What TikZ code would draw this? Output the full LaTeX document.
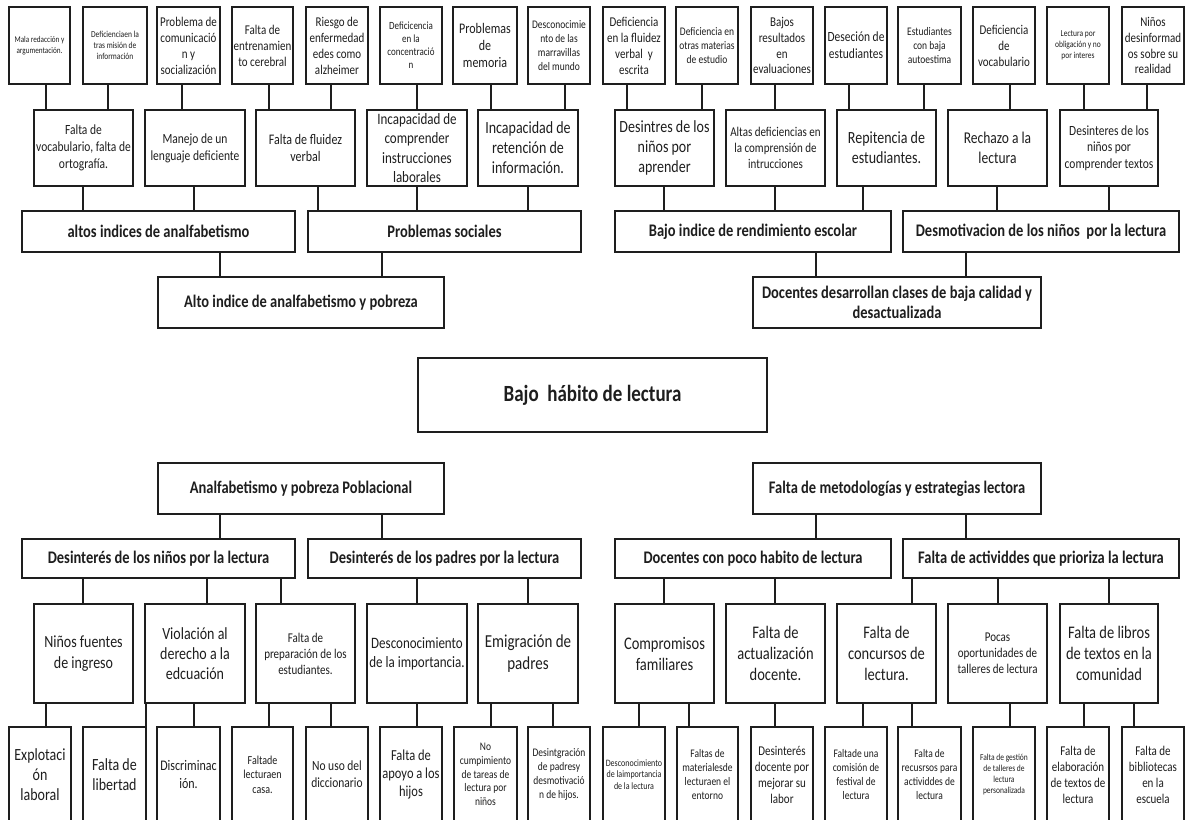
\documentclass[tikz,border=0pt]{standalone}
\usepackage{fontspec}
\setmainfont{Carlito}[FakeStretch=0.82]
\definecolor{ln}{HTML}{1E1E1E}
\tikzset{
  bxs/.style={draw=ln, line width=1.3pt, inner sep=0pt},
  con/.style={draw=ln, line width=1.3pt},
  txt/.style={align=center, inner sep=0pt, text=ln},
}
\newcommand\fs[1]{\fontsize{\fpeval{#1/0.82}}{\fpeval{1.45*#1}}\selectfont}
\newcommand\fsl[2]{\fontsize{\fpeval{#1/0.82}}{#2}\selectfont}
\newcommand\fsb[1]{\fontsize{\fpeval{#1/0.82}}{\fpeval{1.4*#1}}\selectfont\bfseries}
\newcommand\bx[7]{%
  \pgfmathsetmacro\bw{#4-#2}%
  \pgfmathsetmacro\bh{#5-#3}%
  \node[bxs, minimum width=\bw pt, minimum height=\bh pt] (#1) at ({(#2+#4)/2},{(#3+#5)/2}) {};
  \node[txt, font=#6] (#1-t) at (#1.center) {#7};}
\newcommand\cn[3]{\draw[con] (#1.south -| #3,0) -- (#2.north -| #3,0);}
\begin{document}
\begin{tikzpicture}[x=1pt,y=-1pt]
\path[use as bounding box, fill=white] (0,0) rectangle (1185,819);
\clip (0,0) rectangle (1185,819);
% top row
\bx{t1}{9}{7}{70}{84}{\fs{7.2}}{Mala redacción y\\argumentación.}
\bx{t2}{83}{7}{147}{84}{\fs{7.5}}{Deficienciaen la\\tras misión de\\información}
\bx{t3}{157}{7}{220}{84}{\fs{11}}{Problema de\\comunicació\\n y\\socialización}
\bx{t4}{232}{7}{293}{84}{\fs{11}}{Falta de\\entrenamien\\to cerebral}
\bx{t5}{306}{7}{368}{84}{\fs{11}}{Riesgo de\\enfermedad\\edes como\\alzheimer}
\bx{t6}{380}{7}{442}{84}{\fs{9}}{Deficicencia\\en la\\concentració\\n}
\bx{t7}{453}{7}{517}{84}{\fs{12}}{Problemas\\de\\memoria}
\bx{t8}{528}{7}{590}{84}{\fs{9.5}}{Desconocimie\\nto de las\\marravillas\\del mundo}
\bx{t9}{603}{7}{665}{84}{\fs{11}}{Deficiencia\\en la fluidez\\verbal~ y\\escrita}
\bx{t10}{676}{7}{738}{84}{\fs{9.5}}{Deficiencia en\\otras materias\\de estudio}
\bx{t11}{751}{7}{813}{84}{\fs{11}}{Bajos\\resultados\\en\\evaluaciones}
\bx{t12}{825}{7}{887}{84}{\fs{11.5}}{Deseción de\\estudiantes}
\bx{t13}{898}{7}{961}{84}{\fs{9.5}}{Estudiantes\\con baja\\autoestima}
\bx{t14}{973}{7}{1035}{84}{\fs{11}}{Deficiencia\\de\\vocabulario}
\bx{t15}{1047}{7}{1109}{84}{\fs{7.5}}{Lectura por\\obligación y no\\por interes}
\bx{t16}{1122}{7}{1184}{84}{\fs{11}}{Niños\\desinformad\\os sobre su\\realidad}
% upper level 2
\bx{uA}{34}{110}{133}{186}{\fs{11.5}}{Falta de\\vocabulario, falta de\\ortografía.}
\bx{uB}{145}{110}{245}{186}{\fs{11.5}}{Manejo de un\\lenguaje deficiente}
\bx{uC}{256}{110}{355}{186}{\fs{12}}{Falta de fluidez\\verbal}
\bx{uD}{367}{110}{467}{186}{\fsl{13}{19.5}}{Incapacidad de\\comprender\\instrucciones\\laborales}
\bx{uE}{478}{110}{578}{186}{\fsl{14}{20}}{Incapacidad de\\retención de\\información.}
\bx{uF}{615}{110}{714}{186}{\fsl{14}{20}}{Desintres de los\\niños por\\aprender}
\bx{uG}{726}{110}{825}{186}{\fs{11}}{Altas deficiencias en\\la comprensión de\\intrucciones}
\bx{uH}{837}{110}{936}{186}{\fsl{14}{20}}{Repitencia de\\estudiantes.}
\bx{uI}{948}{110}{1047}{186}{\fsl{13.5}{20}}{Rechazo a la\\lectura}
\bx{uJ}{1060}{110}{1158}{186}{\fs{11.5}}{Desinteres de los\\niños por\\comprender textos}
% upper level 3 and 4
\bx{altos}{22}{211}{295}{252}{\fsb{14.5}}{altos indices de analfabetismo}
\bx{probl}{308}{211}{581}{252}{\fsb{14.5}}{Problemas sociales}
\bx{bajo}{615}{211}{891}{252}{\fsb{14.5}}{Bajo indice de rendimiento escolar}
\bx{desm}{903}{211}{1179}{252}{\fsb{14.5}}{Desmotivacion de los niños~ por la lectura}
\bx{alto}{158}{277}{444}{328}{\fsb{14.5}}{Alto indice de analfabetismo y pobreza}
\bx{docdes}{753}{277}{1041}{328}{\fsb{14.5}}{Docentes desarrollan clases de baja calidad y\\desactualizada}
% centre
\bx{centro}{418}{358}{767}{432}{\fsb{19}}{Bajo~ hábito de lectura}
% lower levels
\bx{analf}{158}{463}{444}{514}{\fsb{14.5}}{Analfabetismo y pobreza Poblacional}
\bx{metod}{753}{463}{1041}{514}{\fsb{14.5}}{Falta de metodologías y estrategias lectora}
\bx{dn}{22}{539}{295}{578}{\fsb{14.5}}{Desinterés de los niños por la lectura}
\bx{dp}{308}{539}{581}{578}{\fsb{14.5}}{Desinterés de los padres por la lectura}
\bx{dc}{615}{539}{891}{578}{\fsb{14.5}}{Docentes con poco habito de lectura}
\bx{fa}{903}{539}{1179}{578}{\fsb{14.5}}{Falta de actividdes que prioriza la lectura}
% mid row
\bx{m1}{34}{604}{133}{703}{\fs{14}}{Niños fuentes\\de ingreso}
\bx{m2}{145}{604}{245}{703}{\fs{14}}{Violación al\\derecho a la\\edcuación}
\bx{m3}{256}{604}{355}{703}{\fs{11}}{Falta de\\preparación de los\\estudiantes.}
\bx{m4}{367}{604}{467}{703}{\fs{13}}{Desconocimiento\\de la importancia.}
\bx{m5}{478}{604}{578}{703}{\fs{15}}{Emigración de\\padres}
\bx{m6}{615}{604}{714}{703}{\fs{14.5}}{Compromisos\\familiares}
\bx{m7}{726}{604}{825}{703}{\fs{14.5}}{Falta de\\actualización\\docente.}
\bx{m8}{837}{604}{936}{703}{\fs{14.5}}{Falta de\\concursos de\\lectura.}
\bx{m9}{948}{604}{1047}{703}{\fs{11}}{Pocas\\oportunidades de\\talleres de lectura}
\bx{m10}{1060}{604}{1158}{703}{\fs{14.5}}{Falta de libros\\de textos en la\\comunidad}
% bottom row
\bx{b1}{9}{727}{71}{822}{\fs{14}}{Explotaci\\ón\\laboral}
\bx{b2}{83}{727}{146}{822}{\fs{14}}{Falta de\\libertad}
\bx{b3}{157}{727}{220}{822}{\fs{12}}{Discriminac\\ión.}
\bx{b4}{232}{727}{293}{822}{\fs{10}}{Faltade\\lecturaen\\casa.}
\bx{b5}{306}{727}{368}{822}{\fs{11.5}}{No uso del\\diccionario}
\bx{b6}{380}{727}{442}{822}{\fs{12.5}}{Falta de\\apoyo a los\\hijos}
\bx{b7}{454}{727}{517}{822}{\fs{9.5}}{No\\cumpimiento\\de tareas de\\lectura por\\niños}
\bx{b8}{528}{727}{590}{822}{\fs{9.5}}{Desintgración\\de padresy\\desmotivació\\n de hijos.}
\bx{b9}{603}{727}{665}{822}{\fs{8}}{Desconocimiento\\de laimportancia\\de la lectura}
\bx{b10}{677}{727}{738}{822}{\fs{9.5}}{Faltas de\\materialesde\\lecturaen el\\entorno}
\bx{b11}{751}{727}{813}{822}{\fs{11}}{Desinterés\\docente por\\mejorar su\\labor}
\bx{b12}{825}{727}{887}{822}{\fs{9.5}}{Faltade una\\comisión de\\festival de\\lectura}
\bx{b13}{898}{727}{961}{822}{\fs{9.5}}{Falta de\\recusrsos para\\actividdes de\\lectura}
\bx{b14}{973}{727}{1035}{822}{\fs{7.5}}{Falta de gestión\\de talleres de\\lectura\\personalizada}
\bx{b15}{1047}{727}{1109}{822}{\fs{11}}{Falta de\\elaboración\\de textos de\\lectura}
\bx{b16}{1122}{727}{1184}{822}{\fs{11}}{Falta de\\bibliotecas\\en la\\escuela}
% connectors upper
\cn{t1}{uA}{46} \cn{t2}{uA}{108} \cn{t3}{uB}{182} \cn{t4}{uC}{269}
\cn{t5}{uC}{331} \cn{t6}{uD}{417} \cn{t7}{uE}{491} \cn{t8}{uE}{565}
\cn{t9}{uF}{627} \cn{t10}{uF}{702} \cn{t11}{uG}{775} \cn{t12}{uH}{849}
\cn{t13}{uH}{924} \cn{t14}{uI}{1010} \cn{t15}{uJ}{1084} \cn{t16}{uJ}{1147}
\cn{uA}{altos}{83} \cn{uB}{altos}{194} \cn{uC}{probl}{318} \cn{uD}{probl}{417}
\cn{uE}{probl}{528} \cn{uF}{bajo}{664} \cn{uG}{bajo}{775} \cn{uH}{bajo}{863}
\cn{uI}{desm}{997} \cn{uJ}{desm}{1109}
\cn{altos}{alto}{220} \cn{probl}{alto}{382} \cn{bajo}{docdes}{816} \cn{desm}{docdes}{966}
% connectors lower
\cn{analf}{dn}{220} \cn{analf}{dp}{382} \cn{metod}{dc}{816} \cn{metod}{fa}{966}
\cn{dn}{m1}{83} \cn{dn}{m2}{207} \cn{dn}{m3}{281} \cn{dp}{m4}{417} \cn{dp}{m5}{528}
\cn{dc}{m6}{664} \cn{dc}{m7}{775} \cn{fa}{m8}{912} \cn{fa}{m9}{998} \cn{fa}{m10}{1109}
\cn{m1}{b1}{46} \cn{m2}{b2}{146} \cn{m2}{b3}{194} \cn{m3}{b4}{269} \cn{m3}{b5}{331}
\cn{m4}{b6}{417} \cn{m5}{b7}{491} \cn{m5}{b8}{553} \cn{m6}{b9}{639} \cn{m6}{b10}{689}
\cn{m7}{b11}{775} \cn{m8}{b12}{863} \cn{m8}{b13}{912} \cn{m9}{b14}{1010}
\cn{m10}{b15}{1084} \cn{m10}{b16}{1134}
\end{tikzpicture}
\end{document}
